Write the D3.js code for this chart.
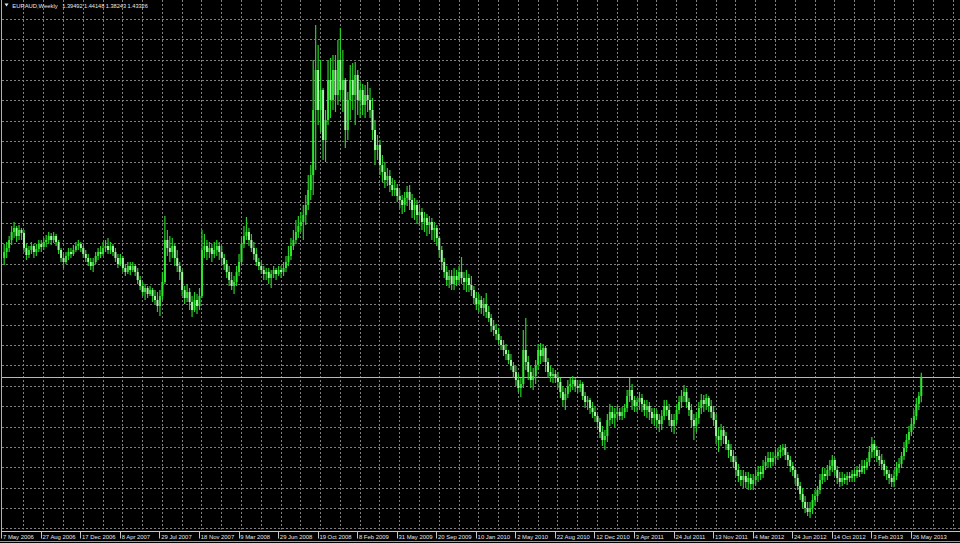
<!DOCTYPE html>
<html><head><meta charset="utf-8">
<script src="https://cdn.jsdelivr.net/npm/d3@7"></script>
<style>html,body{margin:0;padding:0;background:#000;overflow:hidden}</style>
</head><body>
<svg id="chart" width="960" height="543"></svg>
<script>
const symbolName = "EURAUD,Weekly";
const tickLabels = ["7 May 2006","27 Aug 2006","17 Dec 2006","8 Apr 2007","29 Jul 2007","18 Nov 2007","9 Mar 2008","29 Jun 2008","19 Oct 2008","8 Feb 2009","31 May 2009","20 Sep 2009","10 Jan 2010","2 May 2010","22 Aug 2010","12 Dec 2010","3 Apr 2011","24 Jul 2011","13 Nov 2011","4 Mar 2012","24 Jun 2012","14 Oct 2012","3 Feb 2013","26 May 2013"];
const barsPerLabel = 16;
const barsPerGrid = 8;

const opens = [
1.671,1.683,1.691,1.707,1.723,1.731,1.715,1.727,
1.721,1.691,1.677,1.687,1.695,1.683,1.689,1.699,
1.693,1.703,1.707,1.715,1.707,1.715,1.703,1.687,
1.671,1.663,1.675,1.683,1.679,1.687,1.695,1.699,
1.691,1.679,1.671,1.663,1.655,1.663,1.675,1.683,
1.679,1.691,1.695,1.687,1.695,1.683,1.671,1.659,
1.671,1.651,1.643,1.655,1.647,1.655,1.643,1.627,
1.615,1.603,1.611,1.599,1.607,1.595,1.587,1.575,
1.595,1.623,1.707,1.691,1.683,1.695,1.671,1.655,
1.643,1.607,1.591,1.603,1.583,1.567,1.587,1.575,
1.595,1.687,1.695,1.683,1.691,1.679,1.687,1.695,
1.683,1.671,1.659,1.643,1.627,1.615,1.623,1.643,
1.663,1.699,1.715,1.723,1.707,1.691,1.679,1.663,
1.655,1.647,1.639,1.643,1.631,1.639,1.647,1.639,
1.647,1.643,1.651,1.663,1.675,1.695,1.707,1.723,
1.735,1.743,1.757,1.777,1.807,1.837,1.967,2.047,
1.967,2.007,1.907,1.947,2.027,1.987,2.047,1.997,
2.067,2.007,2.027,1.927,1.987,2.027,1.997,2.037,
1.987,2.007,1.977,1.997,1.987,1.967,1.927,1.887,
1.897,1.857,1.843,1.827,1.835,1.817,1.807,1.811,
1.795,1.787,1.777,1.791,1.803,1.787,1.767,1.777,
1.757,1.763,1.743,1.751,1.737,1.743,1.727,1.731,
1.711,1.687,1.663,1.643,1.627,1.635,1.619,1.635,
1.627,1.643,1.631,1.623,1.631,1.617,1.607,1.591,
1.579,1.587,1.571,1.579,1.563,1.551,1.535,1.527,
1.519,1.507,1.497,1.487,1.479,1.467,1.455,1.443,
1.427,1.411,1.419,1.487,1.463,1.443,1.427,1.435,
1.457,1.487,1.475,1.491,1.463,1.443,1.435,1.439,
1.431,1.423,1.403,1.387,1.399,1.415,1.419,1.427,
1.415,1.411,1.419,1.395,1.383,1.387,1.371,1.363,
1.355,1.343,1.323,1.307,1.315,1.347,1.363,1.351,
1.359,1.363,1.355,1.363,1.371,1.395,1.407,1.387,
1.375,1.383,1.391,1.379,1.367,1.375,1.363,1.351,
1.359,1.347,1.339,1.355,1.375,1.367,1.347,1.335,
1.347,1.367,1.383,1.395,1.403,1.383,1.367,1.347,
1.335,1.351,1.371,1.387,1.379,1.391,1.375,1.363,
1.347,1.315,1.307,1.327,1.315,1.299,1.287,1.275,
1.263,1.247,1.235,1.227,1.235,1.223,1.231,1.219,
1.227,1.235,1.243,1.239,1.255,1.263,1.271,1.263,
1.271,1.275,1.283,1.287,1.291,1.277,1.267,1.255,
1.247,1.231,1.215,1.199,1.183,1.171,1.163,1.171,
1.187,1.195,1.207,1.227,1.239,1.235,1.247,1.255,
1.267,1.247,1.231,1.223,1.231,1.227,1.235,1.231,
1.239,1.235,1.247,1.243,1.255,1.251,1.263,1.283,
1.299,1.287,1.275,1.267,1.259,1.247,1.239,1.231,
1.223,1.235,1.251,1.259,1.275,1.291,1.307,1.323,
1.339,1.355,1.379,1.39492];

const highs = [
1.699,1.703,1.715,1.735,1.743,1.735,1.737,1.731,
1.727,1.699,1.695,1.703,1.699,1.699,1.707,1.707,
1.711,1.717,1.723,1.721,1.723,1.719,1.707,1.691,
1.679,1.683,1.691,1.691,1.697,1.703,1.707,1.703,
1.695,1.687,1.679,1.671,1.671,1.683,1.691,1.695,
1.703,1.707,1.711,1.703,1.699,1.691,1.679,1.679,
1.675,1.659,1.663,1.663,1.663,1.659,1.651,1.635,
1.623,1.619,1.615,1.615,1.611,1.607,1.603,1.607,
1.643,1.755,1.727,1.715,1.711,1.699,1.687,1.663,
1.647,1.615,1.619,1.611,1.595,1.603,1.599,1.611,
1.727,1.719,1.707,1.703,1.699,1.703,1.707,1.703,
1.695,1.679,1.667,1.655,1.643,1.635,1.655,1.679,
1.715,1.735,1.753,1.731,1.719,1.703,1.691,1.671,
1.663,1.655,1.651,1.651,1.647,1.655,1.651,1.655,
1.655,1.663,1.675,1.695,1.711,1.727,1.747,1.755,
1.763,1.777,1.797,1.837,1.857,2.067,2.137,2.097,
2.067,2.011,1.967,2.067,2.071,2.077,2.077,2.107,
2.131,2.087,2.031,2.003,2.057,2.061,2.063,2.047,
2.023,2.019,2.017,2.023,2.011,1.991,1.947,1.917,
1.907,1.877,1.863,1.851,1.847,1.831,1.827,1.819,
1.807,1.797,1.803,1.815,1.817,1.799,1.791,1.787,
1.777,1.771,1.763,1.759,1.755,1.751,1.743,1.737,
1.715,1.695,1.671,1.655,1.647,1.647,1.651,1.647,
1.655,1.673,1.643,1.647,1.639,1.635,1.615,1.603,
1.599,1.595,1.591,1.601,1.575,1.559,1.547,1.539,
1.531,1.515,1.507,1.499,1.487,1.479,1.463,1.455,
1.439,1.431,1.527,1.551,1.475,1.455,1.451,1.467,
1.499,1.501,1.499,1.495,1.471,1.455,1.451,1.447,
1.443,1.431,1.415,1.411,1.427,1.431,1.435,1.431,
1.427,1.427,1.423,1.403,1.395,1.391,1.383,1.375,
1.363,1.351,1.335,1.327,1.359,1.379,1.375,1.371,
1.375,1.371,1.373,1.379,1.407,1.431,1.419,1.395,
1.391,1.403,1.399,1.387,1.387,1.383,1.371,1.371,
1.367,1.359,1.367,1.387,1.387,1.379,1.359,1.359,
1.379,1.395,1.407,1.417,1.411,1.391,1.379,1.359,
1.363,1.383,1.399,1.397,1.399,1.395,1.387,1.375,
1.359,1.331,1.339,1.335,1.323,1.307,1.299,1.287,
1.275,1.259,1.247,1.247,1.243,1.243,1.239,1.239,
1.247,1.255,1.255,1.267,1.275,1.283,1.283,1.283,
1.287,1.291,1.297,1.299,1.299,1.283,1.275,1.263,
1.251,1.239,1.223,1.211,1.195,1.183,1.183,1.199,
1.207,1.215,1.239,1.251,1.251,1.257,1.267,1.277,
1.271,1.255,1.243,1.243,1.239,1.243,1.243,1.247,
1.247,1.255,1.259,1.267,1.267,1.271,1.295,1.313,
1.307,1.295,1.287,1.279,1.267,1.255,1.247,1.239,
1.247,1.263,1.271,1.283,1.303,1.319,1.335,1.351,
1.367,1.391,1.403,1.44148];

const lows = [
1.657,1.671,1.683,1.697,1.711,1.703,1.707,1.707,
1.683,1.667,1.671,1.679,1.671,1.675,1.683,1.683,
1.687,1.693,1.699,1.697,1.701,1.695,1.679,1.663,
1.651,1.659,1.667,1.671,1.675,1.683,1.687,1.683,
1.671,1.663,1.655,1.647,1.643,1.659,1.667,1.671,
1.675,1.683,1.679,1.679,1.675,1.663,1.651,1.655,
1.643,1.635,1.639,1.637,1.643,1.635,1.619,1.607,
1.595,1.587,1.591,1.595,1.583,1.579,1.563,1.555,
1.587,1.619,1.675,1.663,1.671,1.655,1.643,1.627,
1.595,1.579,1.583,1.567,1.553,1.563,1.559,1.567,
1.591,1.671,1.667,1.671,1.663,1.671,1.675,1.667,
1.659,1.647,1.631,1.615,1.607,1.599,1.615,1.635,
1.659,1.691,1.707,1.695,1.683,1.667,1.655,1.647,
1.639,1.627,1.627,1.619,1.611,1.631,1.627,1.635,
1.631,1.635,1.643,1.655,1.667,1.687,1.699,1.711,
1.723,1.707,1.737,1.767,1.787,1.797,1.847,1.937,
1.923,1.867,1.863,1.937,1.951,1.967,1.963,1.977,
1.987,1.963,1.891,1.907,1.947,1.967,1.937,1.957,
1.951,1.957,1.951,1.963,1.951,1.907,1.857,1.867,
1.837,1.823,1.811,1.815,1.803,1.795,1.795,1.783,
1.771,1.759,1.763,1.775,1.767,1.751,1.747,1.739,
1.735,1.727,1.723,1.715,1.719,1.707,1.703,1.695,
1.671,1.647,1.631,1.615,1.611,1.607,1.607,1.615,
1.619,1.619,1.607,1.603,1.603,1.595,1.579,1.567,
1.563,1.559,1.555,1.551,1.543,1.523,1.515,1.507,
1.499,1.487,1.475,1.467,1.459,1.447,1.431,1.415,
1.403,1.393,1.411,1.447,1.427,1.411,1.407,1.419,
1.447,1.459,1.463,1.443,1.431,1.423,1.421,1.421,
1.411,1.391,1.375,1.367,1.391,1.403,1.407,1.403,
1.401,1.403,1.387,1.371,1.367,1.359,1.351,1.343,
1.331,1.311,1.295,1.287,1.303,1.335,1.339,1.331,
1.347,1.347,1.347,1.351,1.363,1.383,1.367,1.363,
1.363,1.367,1.363,1.355,1.351,1.347,1.339,1.335,
1.331,1.323,1.327,1.347,1.355,1.335,1.323,1.319,
1.339,1.359,1.371,1.383,1.371,1.355,1.331,1.307,
1.323,1.339,1.359,1.363,1.367,1.363,1.351,1.335,
1.299,1.283,1.295,1.299,1.287,1.271,1.263,1.251,
1.235,1.223,1.215,1.211,1.211,1.207,1.207,1.207,
1.215,1.223,1.227,1.231,1.247,1.251,1.251,1.255,
1.259,1.267,1.271,1.275,1.267,1.255,1.243,1.235,
1.219,1.207,1.187,1.171,1.161,1.155,1.151,1.159,
1.175,1.183,1.199,1.219,1.223,1.227,1.235,1.243,
1.235,1.219,1.213,1.215,1.219,1.217,1.223,1.223,
1.223,1.231,1.233,1.239,1.239,1.247,1.255,1.271,
1.271,1.263,1.255,1.247,1.235,1.227,1.219,1.213,
1.213,1.227,1.241,1.251,1.267,1.283,1.299,1.315,
1.331,1.347,1.367,1.38243];

const closes = [
1.683,1.691,1.707,1.723,1.731,1.715,1.727,1.721,
1.691,1.677,1.687,1.695,1.683,1.689,1.699,1.693,
1.703,1.707,1.715,1.707,1.715,1.703,1.687,1.671,
1.663,1.675,1.683,1.679,1.687,1.695,1.699,1.691,
1.679,1.671,1.663,1.655,1.663,1.675,1.683,1.679,
1.691,1.695,1.687,1.695,1.683,1.671,1.659,1.671,
1.651,1.643,1.655,1.647,1.655,1.643,1.627,1.615,
1.603,1.611,1.599,1.607,1.595,1.587,1.575,1.595,
1.623,1.707,1.691,1.683,1.695,1.671,1.655,1.643,
1.607,1.591,1.603,1.583,1.567,1.587,1.575,1.595,
1.687,1.695,1.683,1.691,1.679,1.687,1.695,1.683,
1.671,1.659,1.643,1.627,1.615,1.623,1.643,1.663,
1.699,1.715,1.723,1.707,1.691,1.679,1.663,1.655,
1.647,1.639,1.643,1.631,1.639,1.647,1.639,1.647,
1.643,1.651,1.663,1.675,1.695,1.707,1.723,1.735,
1.743,1.757,1.777,1.807,1.837,1.967,2.047,1.967,
2.007,1.907,1.947,2.027,1.987,2.047,1.997,2.067,
2.007,2.027,1.927,1.987,2.027,1.997,2.037,1.987,
2.007,1.977,1.997,1.987,1.967,1.927,1.887,1.897,
1.857,1.843,1.827,1.835,1.817,1.807,1.811,1.795,
1.787,1.777,1.791,1.803,1.787,1.767,1.777,1.757,
1.763,1.743,1.751,1.737,1.743,1.727,1.731,1.711,
1.687,1.663,1.643,1.627,1.635,1.619,1.635,1.627,
1.643,1.631,1.623,1.631,1.617,1.607,1.591,1.579,
1.587,1.571,1.579,1.563,1.551,1.535,1.527,1.519,
1.507,1.497,1.487,1.479,1.467,1.455,1.443,1.427,
1.411,1.419,1.487,1.463,1.443,1.427,1.435,1.457,
1.487,1.475,1.491,1.463,1.443,1.435,1.439,1.431,
1.423,1.403,1.387,1.399,1.415,1.419,1.427,1.415,
1.411,1.419,1.395,1.383,1.387,1.371,1.363,1.355,
1.343,1.323,1.307,1.315,1.347,1.363,1.351,1.359,
1.363,1.355,1.363,1.371,1.395,1.407,1.387,1.375,
1.383,1.391,1.379,1.367,1.375,1.363,1.351,1.359,
1.347,1.339,1.355,1.375,1.367,1.347,1.335,1.347,
1.367,1.383,1.395,1.403,1.383,1.367,1.347,1.335,
1.351,1.371,1.387,1.379,1.391,1.375,1.363,1.347,
1.315,1.307,1.327,1.315,1.299,1.287,1.275,1.263,
1.247,1.235,1.227,1.235,1.223,1.231,1.219,1.227,
1.235,1.243,1.239,1.255,1.263,1.271,1.263,1.271,
1.275,1.283,1.287,1.291,1.277,1.267,1.255,1.247,
1.231,1.215,1.199,1.183,1.171,1.163,1.171,1.187,
1.195,1.207,1.227,1.239,1.235,1.247,1.255,1.267,
1.247,1.231,1.223,1.231,1.227,1.235,1.231,1.239,
1.235,1.247,1.243,1.255,1.251,1.263,1.283,1.299,
1.287,1.275,1.267,1.259,1.247,1.239,1.231,1.223,
1.235,1.251,1.259,1.275,1.291,1.307,1.323,1.339,
1.355,1.379,1.395,1.43326];

const W = 960, H = 543;
const plotBottom = 529.5;
const FONT = "'Liberation Sans', Arial, sans-serif";
const svg = d3.select("#chart");
svg.append("rect").attr("width", W).attr("height", H).attr("fill", "#000");

const n = closes.length;
const x = d3.scaleLinear().domain([0, n - 1]).range([4.2, 921.3]);
const y = d3.scaleLinear().domain([1.128, 2.187]).range([plotBottom, 0]);

const bars = d3.range(n).map(i => ({i, o: opens[i], h: highs[i], l: lows[i], c: closes[i]}));

// grid
const gridG = svg.append("g").attr("stroke", "#808080").attr("stroke-width", 1).attr("stroke-dasharray", "2,2");
const vIdx = d3.range(barsPerGrid, Math.floor(x.invert(W)) + 1, barsPerGrid);
gridG.selectAll("line.v").data(vIdx).join("line")
  .attr("x1", d => Math.floor(x(d)) + 0.5).attr("x2", d => Math.floor(x(d)) + 0.5)
  .attr("y1", 0).attr("y2", plotBottom);
const gridTop = 2.1491, gridStep = 0.04076;
const hPrices = d3.range(0, 26).map(k => gridTop - k * gridStep);
gridG.selectAll("line.h").data(hPrices).join("line")
  .attr("x1", 2).attr("x2", W)
  .attr("y1", d => Math.round(y(d)) + 0.5).attr("y2", d => Math.round(y(d)) + 0.5);

// bid line
svg.append("line").attr("x1", 2).attr("x2", W)
  .attr("y1", Math.round(y(closes[n - 1])) + 0.5).attr("y2", Math.round(y(closes[n - 1])) + 0.5)
  .attr("stroke", "#b8b8b8").attr("stroke-width", 1);

// candles
const cg = svg.append("g");
cg.selectAll("line.wick").data(bars).join("line")
  .attr("x1", d => x(d.i)).attr("x2", d => x(d.i))
  .attr("y1", d => y(d.h)).attr("y2", d => y(d.l))
  .attr("stroke", "#26d026").attr("stroke-width", 1.2);
cg.selectAll("rect.body").data(bars).join("rect")
  .attr("x", d => x(d.i) - 1).attr("width", 2)
  .attr("y", d => y(Math.max(d.o, d.c)))
  .attr("height", d => Math.max(1, Math.abs(y(d.o) - y(d.c))))
  .attr("fill", d => d.c >= d.o ? "#2ee62e" : "#a6f5a6");

// frame
svg.append("line").attr("x1", 1.5).attr("x2", 1.5).attr("y1", 0).attr("y2", 532)
  .attr("stroke", "#b0b0b0");
svg.append("line").attr("x1", 1).attr("x2", W).attr("y1", 531.5).attr("y2", 531.5)
  .attr("stroke", "#c4c4c4");
svg.append("line").attr("x1", 0).attr("x2", W).attr("y1", 541.5).attr("y2", 541.5)
  .attr("stroke", "#9a9a9a");

// time labels
const lblIdx = tickLabels.map((t, k) => k * barsPerLabel);
const lg = svg.append("g");
lg.selectAll("line").data(lblIdx).join("line")
  .attr("x1", d => Math.round(x(d) - 2) - 0.5).attr("x2", d => Math.round(x(d) - 2) - 0.5)
  .attr("y1", 531.5).attr("y2", 538.5).attr("stroke", "#c4c4c4");
lg.selectAll("text").data(tickLabels).join("text")
  .attr("x", (d, k) => x(lblIdx[k]) - 1.2).attr("y", 539.4)
  .attr("fill", "#e6e6e6").attr("font-family", FONT)
  .attr("font-size", 5.9).text(d => d);

// title
svg.append("path").attr("d", "M4.5,3.5 L8.5,3.5 L6.5,6.5 Z").attr("fill", "#e8e8e8");
const fmt = d3.format(".5f");
svg.append("text").attr("x", 12.3).attr("y", 7.8)
  .attr("fill", "#e8e8e8").attr("font-family", FONT).attr("font-size", 5.85)
  .text(symbolName);
svg.append("text").attr("x", 62.3).attr("y", 7.8)
  .attr("fill", "#e8e8e8").attr("font-family", FONT).attr("font-size", 5.6)
  .text([opens[n-1], highs[n-1], lows[n-1], closes[n-1]].map(fmt).join(" "));
</script>
</body></html>
